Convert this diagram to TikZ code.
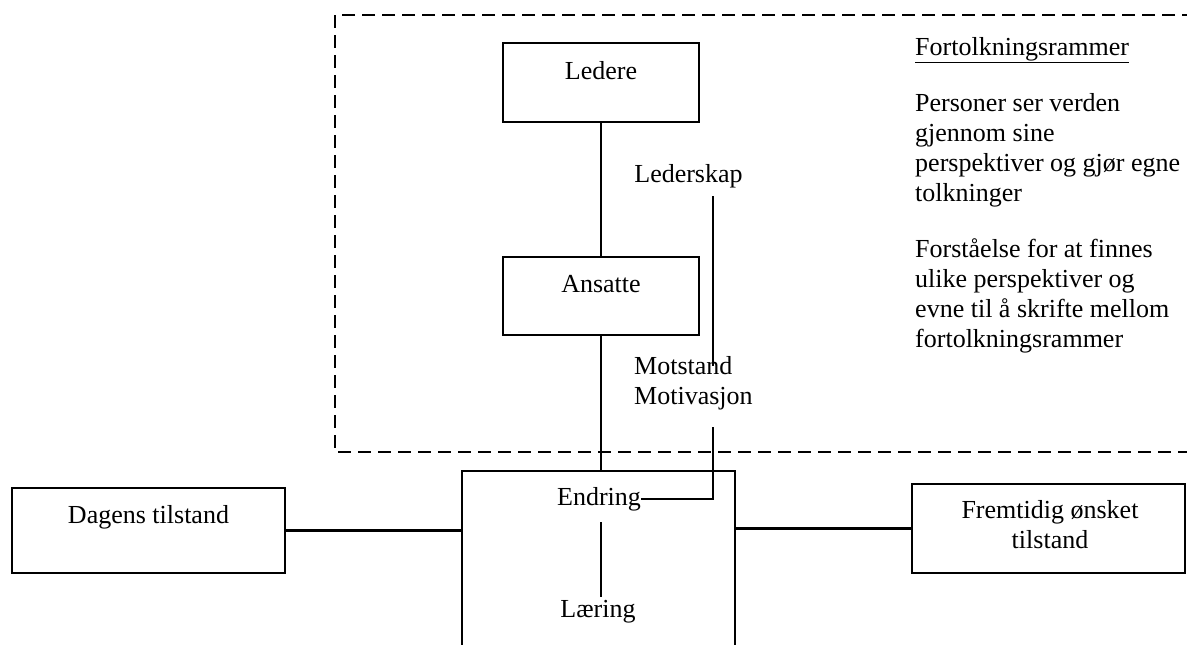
\documentclass[tikz,border=0pt]{standalone}
\usepackage{fontspec}
\setmainfont{Liberation Serif}
\begin{document}
\begin{tikzpicture}[x=1pt,y=-1pt,
  box/.style={draw,line width=1.3pt,inner sep=0pt,rectangle},
  txt/.style={inner sep=0pt,anchor=base,font=\fontsize{26}{30}\selectfont},
  ltxt/.style={inner sep=0pt,anchor=base west,font=\fontsize{26}{30}\selectfont},
  conn/.style={line width=2.3pt},
  frame/.style={line width=1.7pt,dash pattern=on 13pt off 7pt}]
\useasboundingbox (0,0) rectangle (1187,645);
% dashed frame
\draw[frame] (1195,15) -- (335,15) -- (335,452) -- (1195,452);
% boxes
\node[box,minimum width=196pt,minimum height=79pt] (ledere) at (601,82.5) {};
\node[box,minimum width=196pt,minimum height=78pt] (ansatte) at (601,296) {};
\node[box,minimum width=273pt,minimum height=229pt] (endrbox) at (598.5,585.5) {};
\node[box,minimum width=273pt,minimum height=85pt] (dagens) at (148.5,530.5) {};
\node[box,minimum width=273pt,minimum height=89pt] (fremt) at (1048.5,528.5) {};
% texts
\node[txt] (ledt) at (601,79) {Ledere};
\node[txt] (anst) at (601,292) {Ansatte};
\node[txt] (lsk) at (688.5,182) {Lederskap};
\node[ltxt] (mots) at (634,374) {Motstand};
\node[ltxt] (moti) at (634,404) {Motivasjon};
\node[txt] (endrt) at (599,505) {Endring};
\node[txt] (laer) at (598,617) {Læring};
\node[txt] (dagt) at (148.5,523) {Dagens tilstand};
\node[txt] (fr1) at (1050,518) {Fremtidig ønsket};
\node[txt] (fr2) at (1050,548) {tilstand};
\node[ltxt] (h1) at (915,55) {\underline{Fortolkningsrammer}};
\node[ltxt] (p1) at (915,111) {Personer ser verden};
\node[ltxt] (p2) at (915,141) {gjennom sine};
\node[ltxt] (p3) at (915,171) {perspektiver og gjør egne};
\node[ltxt] (p4) at (915,201) {tolkninger};
\node[ltxt] (q1) at (915,257) {Forståelse for at finnes};
\node[ltxt] (q2) at (915,287) {ulike perspektiver og};
\node[ltxt] (q3) at (915,317) {evne til å skrifte mellom};
\node[ltxt] (q4) at (915,347) {fortolkningsrammer};
% connector free ends
\coordinate (lk1) at (713,196);
\coordinate (lk2) at (713,366);
\coordinate (mv) at (713,427);
\coordinate (lr1) at (601,522);
\coordinate (lr2) at (601,597);
% connectors
\draw[conn] (ledere.south) -- (ansatte.north);
\draw[conn] (ansatte.south) -- (ansatte.south |- endrbox.north);
\draw[conn] (lk1) -- (lk2);
\draw[conn] (mv) |- (endrt.east);
\draw[conn] (lr1) -- (lr2);
\draw[conn] (dagens.east) -- (dagens.east -| endrbox.west);
\draw[conn] (fremt.west -| endrbox.east) -- (fremt.west);
\end{tikzpicture}
\end{document}
